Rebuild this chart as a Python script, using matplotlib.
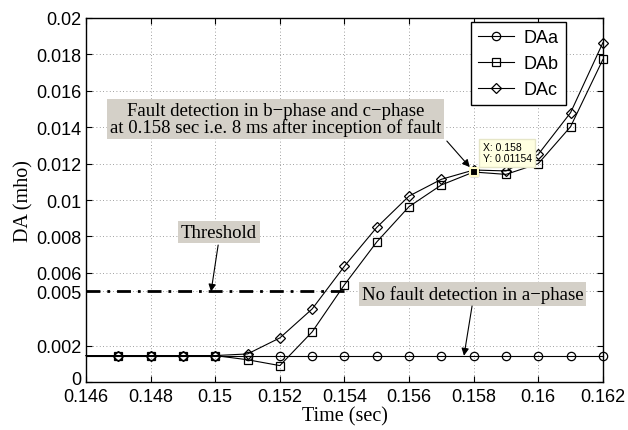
import matplotlib
matplotlib.use("Agg")
import matplotlib.pyplot as plt
from matplotlib.transforms import ScaledTranslation

# sample times (s); first sample sits on the left axis edge
t = [0.146, 0.147, 0.148, 0.149, 0.150, 0.151, 0.152, 0.153, 0.154,
     0.155, 0.156, 0.157, 0.158, 0.159, 0.160, 0.161, 0.162]

# discriminant admittance per phase (mho)
da_a = [0.00146] * 17
da_b = [0.00146, 0.00146, 0.00146, 0.00146, 0.00146, 0.00123, 0.00091, 0.00276,
        0.00535, 0.0077, 0.00964, 0.01083, 0.01154, 0.01141, 0.0120, 0.01403, 0.01772]
da_c = [0.00146, 0.00146, 0.00146, 0.00146, 0.00146, 0.00155, 0.00243, 0.00402,
        0.00637, 0.0085, 0.01022, 0.01114, 0.01165, 0.0116, 0.01251, 0.0148, 0.01864]

threshold = 0.005
thr_t = [0.146, 0.154]

tip_t = 0.158
tip_y = 0.01154

xticks = [0.146, 0.148, 0.150, 0.152, 0.154, 0.156, 0.158, 0.160, 0.162]
xlabels = ["0.146", "0.148", "0.15", "0.152", "0.154", "0.156", "0.158", "0.16", "0.162"]
yticks = [0, 0.002, 0.005, 0.006, 0.008, 0.010, 0.012, 0.014, 0.016, 0.018, 0.020]
ylabels = ["0", "0.002", "0.005", "0.006", "0.008", "0.01", "0.012", "0.014",
           "0.016", "0.018", "0.02"]

sans = "Liberation Sans"
serif = "Liberation Serif"
box_gray = "#d4d0c8"

fig = plt.figure(figsize=(6.28, 4.31), dpi=100)
ax = fig.add_axes([0.137, 0.111, 0.823, 0.845])

common = dict(color="black", linewidth=0.8, markersize=6, markerfacecolor="none",
              markeredgewidth=0.9, markevery=slice(1, None), clip_on=False)
ax.plot(t, da_a, marker="o", label="DAa", **common)
ax.plot(t, da_b, marker="s", label="DAb", **common)
ax.plot(t, da_c, marker="D", label="DAc", **dict(common, markersize=5.5))

ax.plot(thr_t, [threshold, threshold], color="black", linestyle=(0, (5, 2.5, 1, 2.5)),
        linewidth=2)

# data cursor
ax.plot([tip_t], [tip_y], marker="s", markersize=6, markerfacecolor="black",
        markeredgecolor="#fffbc8", markeredgewidth=1.5, zorder=5)
ax.annotate("X: 0.158\nY: 0.01154", xy=(tip_t, tip_y), xytext=(9, 9),
            textcoords="offset pixels", fontsize=7.5, family=sans,
            ha="left", va="bottom", linespacing=1.1,
            bbox=dict(boxstyle="square,pad=0.35", facecolor="#ffffe1",
                      edgecolor="#e6e6c8", linewidth=1), zorder=6)

ax.set_xlim(0.146, 0.162)
ax.set_ylim(0, 0.02)
ax.set_xticks(xticks)
ax.set_xticklabels(xlabels, family=sans, fontsize=13)
ax.set_yticks(yticks)
ax.set_yticklabels(ylabels, family=sans, fontsize=13)
ax.tick_params(direction="in", length=4, width=0.8, top=True, right=True, pad=3)
ax.tick_params(axis="x", pad=4)
ax.grid(True, linestyle=(0, (1, 3)), color="#808080", linewidth=0.6)
for s in ax.spines.values():
    s.set_linewidth(1.0)

# lift the "0" label a little so it clears the first x label
zero = ax.get_yticklabels()[0]
zero.set_transform(zero.get_transform() + ScaledTranslation(0, 3 / 72, fig.dpi_scale_trans))

ax.set_xlabel("Time (sec)", family=serif, fontsize=14.5, labelpad=1)
ax.set_ylabel("DA (mho)", family=serif, fontsize=14.5, labelpad=2)

leg = ax.legend(loc="upper right", bbox_to_anchor=(0.928, 0.989), borderaxespad=0,
                prop={"family": sans, "size": 13}, fancybox=False, framealpha=1,
                edgecolor="black", handlelength=2.0, labelspacing=0.5,
                borderpad=0.4, handletextpad=0.5)
leg.get_frame().set_linewidth(1.0)

gray_box = dict(boxstyle="square,pad=0.15", facecolor=box_gray, edgecolor="none")
arrow = dict(arrowstyle="-|>", color="black", linewidth=0.8, mutation_scale=11,
             shrinkA=0, shrinkB=0)

ax.text(0.15188, 0.01445,
        "Fault detection in b\u2212phase and c\u2212phase\nat 0.158 sec i.e. 8 ms after inception of fault",
        family=serif, fontsize=13.5, ha="center", va="center", linespacing=1.0,
        bbox=gray_box)
ax.annotate("", xy=(0.15788, 0.01181), xytext=(0.15717, 0.01324), arrowprops=arrow)

ax.text(0.15012, 0.00824, "Threshold", family=serif, fontsize=13.5,
        ha="center", va="center", bbox=gray_box)
ax.annotate("", xy=(0.14987, 0.00497), xytext=(0.15009, 0.00753), arrowprops=arrow)

ax.text(0.15796, 0.00484, "No fault detection in a\u2212phase", family=serif,
        fontsize=13.5, ha="center", va="center", bbox=gray_box)
ax.annotate("", xy=(0.1577, 0.00145), xytext=(0.15795, 0.00418), arrowprops=arrow)

fig.savefig("out.png", dpi=100)
